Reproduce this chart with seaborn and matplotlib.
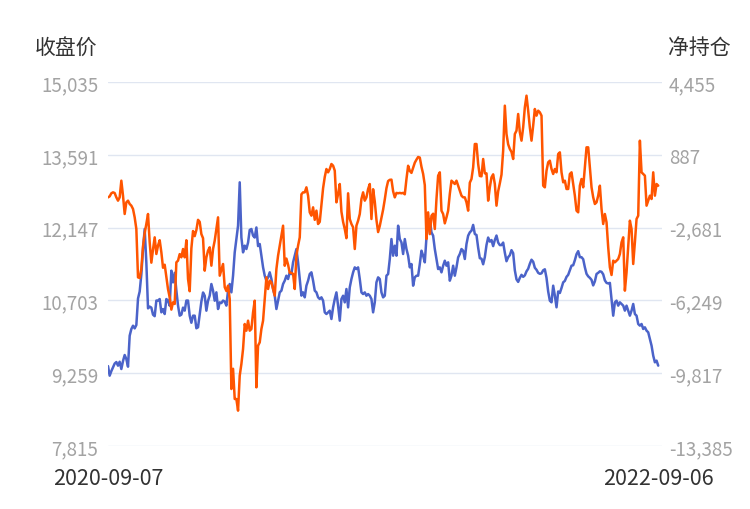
import numpy as np
import pandas as pd
import matplotlib
matplotlib.use("Agg")
import matplotlib.pyplot as plt
import seaborn as sns
from matplotlib.ticker import FuncFormatter

# ---------------- data ----------------
start_label = "2020-09-07"
end_label = "2022-09-06"
left_title = "收盘价"
right_title = "净持仓"
left_ticks = [7815, 9259, 10703, 12147, 13591, 15035]
right_ticks = [-13385, -9817, -6249, -2681, 887, 4455]

close = [
    9400, 9210, 9300, 9375, 9450, 9480, 9408, 9487, 9342, 9500, 9620, 9540, 9388, 10003, 10135, 10201,
    10148, 10215, 10740, 10880, 11220, 11720, 12119, 11450, 10545, 10580, 10560, 10420, 10390, 10700,
    10700, 10730, 10466, 10532, 10433, 10730, 10697, 10598, 11293, 11061, 11250, 10900, 10600, 10400,
    10420, 10560, 10500, 10700, 10700, 10400, 10260, 10400, 10400, 10150, 10170, 10430, 10680, 10860,
    10796, 10499, 10697, 10796, 11028, 10896, 10697, 10863, 10532, 10664,
    10650, 10700, 10680, 10600, 10900, 11028, 10863, 11193, 11656, 11921, 12185, 13045, 11950, 11656,
    11789, 11722, 11850, 12100, 12119, 11987, 11950, 12150, 11780, 11822, 11590, 11359, 11193, 11094,
    11160, 11260, 11127, 10929, 10797, 10532, 10698, 10863, 10896, 11028, 11094, 11193, 11127, 11260,
    11226, 11458, 11590, 11722, 11458, 11127, 10797, 10863, 10764, 10995, 11094, 11226, 11260, 11094,
    10896, 10863, 10764, 10731, 10764, 10698, 10466, 10433, 10466, 10499,
    10334, 10565, 10730, 10862, 10598, 10301, 10730, 10796, 10664, 10929, 10565, 10962, 11127, 11259,
    11358, 11325, 11358, 11127, 10862, 10829, 10862, 10796, 10829, 10796, 10730, 10466, 10664, 11061,
    11160, 11127, 10862, 10763, 10796, 11193, 11226, 11524, 11920, 11590, 11788, 11590, 12185, 11920,
    11854, 11623, 11920, 11722, 11590, 11358, 11424, 10995, 11160, 11193, 11193, 11424, 11689, 11590,
    11458, 11953, 12218, 12317, 12053, 11986, 11722, 11524, 11325, 11358,
    11259, 11391, 11491, 11391, 11458, 11094, 11193, 11391, 11193, 11358, 11557, 11623, 11722, 11689,
    11524, 11821, 11987, 12053, 12086, 12200, 12020, 12000, 11750, 11540, 11530, 11420, 11560, 11800,
    11950, 11870, 11900, 11780, 11900, 11990, 11850, 11800, 11800, 11850, 11650, 11480, 11560, 11600,
    11700, 11640, 11300, 11120, 11070, 11150, 11210, 11170, 11200, 11280, 11330, 11430, 11510, 11470,
    11350, 11310, 11250, 11230, 11240, 11300, 11320, 11150, 10880, 10697,
    10665, 10995, 10797, 10566, 10880, 10850, 10950, 11061, 11090, 11170, 11210, 11300, 11392, 11400,
    11500, 11620, 11680, 11560, 11560, 11520, 11360, 11230, 11180, 11150, 11110, 11000, 11080, 11227,
    11250, 11280, 11270, 11220, 11100, 11050, 11040, 11050, 10731, 10400, 10665, 10698, 10599, 10665,
    10632, 10599, 10500, 10599, 10500, 10400, 10500, 10632, 10433, 10400, 10235, 10202, 10235, 10136,
    10169, 10103, 10070, 9937, 9805, 9607, 9475, 9508, 9409,
]

net_position = [
    -1200, -1150, -1000, -953, -985, -1198, -1361, -1198, -381, -1116, -2014, -1443, -1361, -1524, -1606,
    -1769, -2178, -2750, -5119, -5150, -4700, -3600, -2950, -2500, -2014, -3400, -4400, -3750, -3158,
    -3975, -3560, -3300, -3893, -4650, -4500, -5100, -5700, -6100, -6700, -6344, -6425, -4383, -4300,
    -3980, -4138, -3730, -4138, -3300, -5200, -5800, -3700, -2850, -3100, -2800, -2300, -2400, -3000,
    -3200, -4792, -4138, -3811, -3648, -4547, -3730, -3321, -2750, -2178, -5037,
    -4750, -4465, -5600, -5790, -5527, -6181, -10592, -9600, -11082, -11082, -11653, -9938, -9366, -8631,
    -7406, -7733, -7243, -7733, -7651, -6834, -6262, -10510, -8468, -8304, -7651, -7243, -6200, -5119,
    -5690, -5282, -5364, -5690, -6017, -4710, -4057, -3567, -3077, -2587, -4550, -4200, -4500, -4900,
    -4900, -4950, -5690, -4057, -3567, -3158, -1050, -953, -953, -708, -1116, -1933, -2096, -1688, -2300,
    -1850, -2505, -2400, -1600, -750, -200, 191, 27, 191,
    436, 354, 109, -1443, -1035, -544, -1900, -2400, -2750, -3200, -1000, -2260, -2505, -2668, -3730,
    -2587, -2342, -2015, -1280, -953, -1361, -1198, -789, -545, -2260, -800, -1400, -2300, -2900, -2600,
    -2200, -1800, -1300, -750, -400, -340, -330, -900, -1200, -980, -1000, -980, -1000, -980, -1050,
    -300, 350, 100, 0, 250, 500, 650, 780, 750, 300, -50, -600, -3240, -1933, -3000, -2100, -2000,
    -2750, -1280, -136, 27,
    -1851, -2015, -2472, -2178, -1851, -1034, -381, -462, -544, -381, -626, -871, -1116, -1198, -1198,
    -1443, -1851, -479, -299, 273, 1416, 1416, 436, -152, -168, 681, -21, -21, -1361, -708, -217, -70,
    -544, -1606, -904, -511, -87, 1090, 3295, 1906, 1400, 1171, 1024, 681, 1906, 2070, 2887, 1988, 1580,
    2233, 3213, 3785, 3050, 2233, 1580, 2315, 3132, 2805, 3050, 2968, 2805, -626, -708, 109, 518, 599,
    191, -54, 191, 28, 926, 1008, 28, -462, -381, -789, -789, -54, 28, -544, -1116, -1851, -1933, -626,
    -299, -707, 273, 1253, 1253, 273, -707, -1197, -1524, -1442, -1116, -626, -1769, -2505, -2014, -2423,
    -3648, -4628, -5004, -4302, -4383, -4302, -4220, -3975, -3403, -3158, -5772, -4873, -3566, -2341,
    -2750, -4465, -3403, -2259, -2096, 1580, 28, -54, -136, -1606, -1361, -1116, -1279, 28, -1116, -544,
    -626,
]

# ---------------- figure ----------------
sns.set_theme(style="white")
plt.rcParams["font.family"] = ["Noto Sans CJK SC", "DejaVu Sans"]

W, H = 750, 510
fig = plt.figure(figsize=(W / 100, H / 100), dpi=100)
fig.patch.set_facecolor("white")
ax = fig.add_axes([108 / W, 1 - 447 / H, (662 - 108) / W, (447 - 83) / H])
ax2 = ax.twinx()

d0 = pd.Timestamp(start_label)
d1 = pd.Timestamp(end_label)
df_close = pd.DataFrame({"date": pd.date_range(d0, d1, periods=len(close)), "close": close})
df_net = pd.DataFrame({"date": pd.date_range(d0, d1, periods=len(net_position)), "net": net_position})

sns.lineplot(data=df_close, x="date", y="close", ax=ax, color="#4b63c9", linewidth=1.8)
sns.lineplot(data=df_net, x="date", y="net", ax=ax2, color="#ff5500", linewidth=1.8)

ax.set_ylim(left_ticks[0], left_ticks[-1])
ax2.set_ylim(right_ticks[0], right_ticks[-1])
ax.set_yticks(left_ticks)
ax2.set_yticks(right_ticks)
fmt = FuncFormatter(lambda v, p: f"{v:,.0f}")
ax.yaxis.set_major_formatter(fmt)
ax2.yaxis.set_major_formatter(fmt)

ax.set_xlim(d0, d1 + pd.Timedelta(days=5))
ax.set_xticks([d0, d1])
ax.set_xticklabels([start_label, end_label])

ax.grid(axis="y", color="#e0e6f1", linewidth=1)
ax.grid(axis="x", visible=False)
ax2.grid(False)
for a in (ax, ax2):
    for s in a.spines.values():
        s.set_visible(False)
    a.set_xlabel("")
    a.set_ylabel("")

ax.tick_params(axis="y", length=0, pad=7, labelsize=13.5, labelcolor="#a3a3a3")
ax2.tick_params(axis="y", length=0, pad=5, labelsize=13.5, labelcolor="#a3a3a3")
ax.tick_params(axis="x", length=0, pad=15, labelsize=15.5, labelcolor="#333333")

fig.text(35 / W, 1 - 48 / H, left_title, fontsize=15, color="#333333", ha="left", va="center")
fig.text(731 / W, 1 - 48 / H, right_title, fontsize=15, color="#333333", ha="right", va="center")

fig.savefig("out.png", dpi=100)
